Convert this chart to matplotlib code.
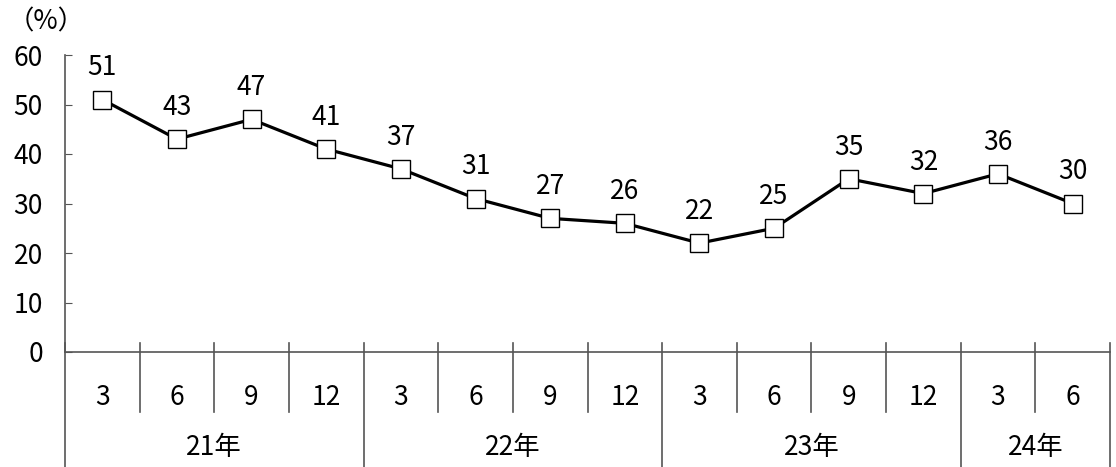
import matplotlib
matplotlib.use("Agg")
import matplotlib.pyplot as plt

plt.rcParams['font.family'] = ['Noto Sans CJK JP', 'DejaVu Sans']

months = ["3", "6", "9", "12", "3", "6", "9", "12", "3", "6", "9", "12", "3", "6"]
values = [51, 43, 47, 41, 37, 31, 27, 26, 22, 25, 35, 32, 36, 30]
years = ["21年", "22年", "23年", "24年"]
year_spans = [4, 4, 4, 2]  # quarters per year group

W, H = 1116, 467
fig = plt.figure(figsize=(W / 100, H / 100), dpi=100)
ax = fig.add_axes([65 / W, 115 / H, (1110 - 65) / W, 297 / H])

axis_col = "#555555"
fs = 19
x = list(range(len(values)))
ax.plot(x, values, color="black", lw=2.3, marker="s", ms=12.5,
        mfc="white", mec="black", mew=1.0, zorder=3, clip_on=False)
for xi, v in zip(x, values):
    ax.annotate(str(v), (xi, v), xytext=(0, 13), textcoords="offset points",
                ha="center", va="bottom", fontsize=fs)

ax.set_xlim(-0.5, len(values) - 0.5)
ax.set_ylim(0, 60)
ax.set_yticks(range(0, 61, 10))
ax.tick_params(axis="y", direction="in", length=5, color=axis_col,
               labelsize=fs, pad=16)
ax.set_xticks([])
for s in ["top", "right"]:
    ax.spines[s].set_visible(False)
for s in ["left", "bottom"]:
    ax.spines[s].set_color(axis_col)
    ax.spines[s].set_linewidth(1.2)

# category axis: month cells and year groups
tr = ax.get_xaxis_transform()
top, mbot, ybot = 0.03, -0.202, -0.39
for i, m in enumerate(months):
    ax.text(i, -0.152, m, transform=tr, ha="center", va="center", fontsize=fs)
bounds = [-0.5]
for n in year_spans:
    bounds.append(bounds[-1] + n)
for i in range(len(months) + 1):
    xb = i - 0.5
    y0 = ybot if xb in bounds else mbot
    ax.plot([xb, xb], [top, y0], transform=tr, color=axis_col, lw=1.2,
            clip_on=False)
for yl, a, b in zip(years, bounds[:-1], bounds[1:]):
    ax.text((a + b) / 2, -0.32, yl, transform=tr, ha="center", va="center",
            fontsize=fs)

fig.text(8 / W, 1 - 22 / H, "（%）", ha="left", va="center", fontsize=fs)

fig.savefig("out.png", dpi=100)
